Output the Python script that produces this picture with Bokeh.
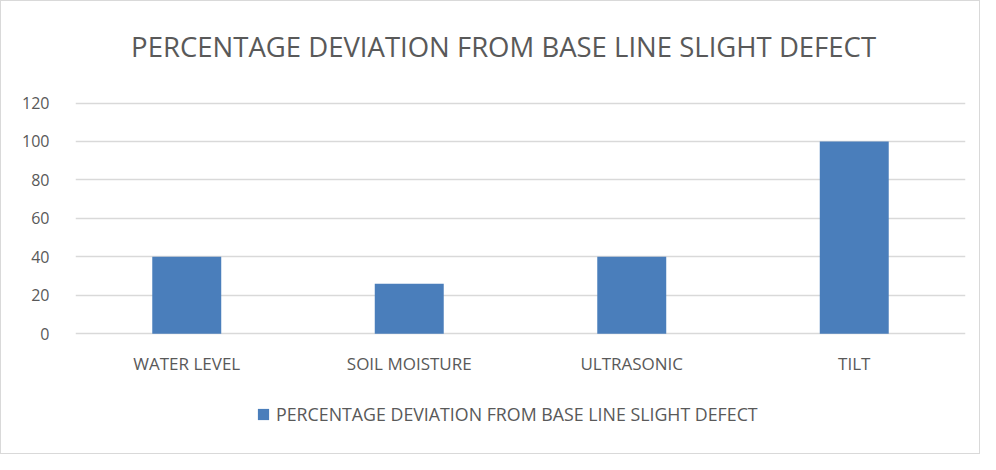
from bokeh.plotting import figure
from bokeh.models import ColumnDataSource, Legend, LegendItem, FactorRange, Range1d, Label, LabelSet
from bokeh.core.properties import value
from bokeh.embed import file_html
from bokeh.resources import INLINE

categories = ["WATER LEVEL", "SOIL MOISTURE", "ULTRASONIC", "TILT"]
values = [40, 26, 40, 100]
series_name = "PERCENTAGE DEVIATION FROM BASE LINE SLIGHT DEFECT"
y_ticks = [0, 20, 40, 60, 80, 100, 120]

FONT = "Open Sans"
GREY = "#595959"
GRID = "#d9d9d9"
BAR = "#4a7ebb"

src = ColumnDataSource(dict(cat=categories, val=values))

# the frame spans the whole height so title, category labels and legend sit inside it
p = figure(x_range=FactorRange(*categories, range_padding=0), y_range=Range1d(-63.3, 172.8),
           width=980, height=454, output_backend="svg", toolbar_location=None,
           min_border_left=74, min_border_right=16, min_border_top=0, min_border_bottom=0)

r = p.vbar(x="cat", top="val", width=0.31, source=src, fill_color=BAR, line_color=None)

p.outline_line_color = None
p.xgrid.grid_line_color = None
p.ygrid.grid_line_color = GRID
p.ygrid.grid_line_width = 1.5
p.ygrid.ticker = y_ticks
p.yaxis.ticker = y_ticks
p.yaxis.axis_line_color = None
p.yaxis.major_tick_line_color = None
p.yaxis.minor_tick_line_color = None
p.yaxis.major_label_standoff = 20
p.yaxis.major_label_text_font = FONT
p.yaxis.major_label_text_font_size = "16px"
p.yaxis.major_label_text_color = GREY
p.xaxis.visible = False

# category labels under the baseline
cat_labels = LabelSet(x="cat", y=-15.6, text="cat", source=src, text_align="center",
                      text_baseline="middle", text_font=value(FONT),
                      text_font_size=value("17px"), text_color=value(GREY))
p.add_layout(cat_labels)

# chart title
title = Label(x=1.924, y=149.5, text=series_name, text_align="center", text_baseline="middle",
              text_font=FONT, text_font_size="27.5px", text_color=GREY)
p.add_layout(title)

legend = Legend(items=[LegendItem(label=series_name, renderers=[r])],
                location=(181, 29), orientation="horizontal",
                label_text_font=FONT, label_text_font_size="17.8px", label_text_color=GREY,
                glyph_width=14, glyph_height=14, label_height=20, padding=0, margin=0, spacing=0,
                label_standoff=6, border_line_color=None, background_fill_alpha=0)
p.add_layout(legend, "center")

p.styles = {"border": "1.5px solid #d9d9d9", "box-sizing": "border-box"}

open("out.html", "w").write(file_html(p, INLINE))
